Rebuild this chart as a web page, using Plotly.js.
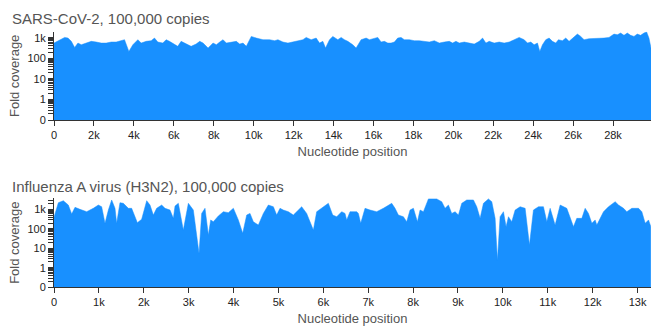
<!DOCTYPE html>
<html>
<head>
<meta charset="utf-8">
<script src="https://cdn.plot.ly/plotly-3.0.1.min.js"></script>
<style>html,body{margin:0;padding:0;background:#fff}#chart{width:653px;height:328px}</style>
</head>
<body>
<div id="chart"></div>
<script>
// SARS-CoV-2 coverage
const sarsPos = [0,283,533,700,867,1033,1200,1367,1617,1867,2117,2367,2617,2867,3117,3367,3533,3750,3950,4200,4367,4617,4867,5033,5200,5450,5617,5783,6033,6200,6367,6617,6867,7117,7300,7467,7717,7967,8133,8300,8467,8633,8883,9133,9300,9467,9633,9883,10133,10467,10800,11050,11217,11467,11717,11967,12217,12467,12633,12883,13133,13300,13467,13600,13800,13967,14217,14383,14550,14717,14967,15133,15383,15633,15800,16050,16217,16383,16550,16717,16883,17050,17217,17383,17550,17800,18050,18300,18550,18800,19050,19300,19550,19800,19967,20133,20300,20550,20800,21050,21300,21467,21633,21800,22050,22300,22550,22800,23050,23300,23550,23717,23883,24050,24217,24333,24467,24633,24800,24967,25133,25267,25467,25633,25800,26000,26217,26383,26550,26800,27050,27300,27550,27800,28050,28217,28383,28550,28717,28883,29050,29217,29383,29550,29683,29800,29903];
const sarsCov = [545,795,1030,955,660,337,545,452,545,660,612,545,545,612,612,710,795,215,452,795,545,660,710,955,612,545,795,660,452,378,660,487,378,487,660,545,313,545,452,612,795,545,612,660,487,545,378,1150,955,795,795,710,795,612,545,612,660,795,1030,795,955,545,660,313,795,1150,795,1030,795,660,452,313,795,955,795,890,1030,612,660,545,545,612,955,1030,795,795,710,710,660,612,710,545,612,660,545,660,545,612,545,487,660,955,545,660,545,612,545,612,795,1030,795,545,612,452,545,215,452,795,955,660,545,795,710,955,660,955,1490,1150,795,890,890,890,955,1030,1490,1380,1670,1290,1670,1290,1150,1490,1290,1670,1900,955,313];

// Influenza A (H3N2) coverage
const fluPos = [0,22,97,208,319,394,468,579,728,876,988,1062,1136,1211,1285,1359,1396,1470,1545,1656,1730,1857,1953,2065,2139,2213,2287,2399,2473,2584,2659,2696,2770,2881,2993,3104,3179,3231,3290,3364,3439,3491,3550,3661,3773,3884,3996,4107,4204,4293,4367,4441,4553,4664,4775,4887,4961,5035,5109,5221,5332,5444,5518,5629,5778,5852,5964,6112,6209,6298,6409,6483,6521,6595,6744,6781,6833,6929,7041,7189,7338,7524,7598,7672,7784,7858,7932,8007,8096,8155,8230,8341,8527,8638,8712,8787,8861,8935,9010,9084,9195,9344,9418,9493,9567,9678,9753,9827,9879,9938,10013,10072,10124,10198,10273,10384,10496,10592,10681,10793,10904,10979,11053,11127,11164,11276,11424,11573,11647,11759,11833,11907,11982,12056,12093,12242,12353,12502,12576,12688,12762,12873,13022,13096,13171,13245,13297];
const fluCov = [400,630,2240,2830,1700,590,1290,1020,770,1150,1700,1390,195,940,3090,1150,195,2240,2080,1150,1150,210,315,2830,1700,520,1150,1700,1150,940,350,1510,2080,88,2080,940,60,5.6,630,1150,49,290,235,465,770,690,1150,290,60,520,630,235,159,630,1700,1390,520,1150,940,770,520,940,1390,630,88,770,1150,2080,520,425,770,630,290,770,770,630,195,1150,940,770,1150,2080,1150,520,425,235,940,1150,235,940,770,3500,3500,2520,1150,1700,630,770,520,2080,3090,3090,1390,350,2080,3500,2520,350,2.5,425,770,131,425,235,940,1390,1150,15,940,1390,1390,235,1150,350,159,1700,1150,131,350,350,1150,630,195,290,159,770,1390,2520,1700,1150,770,1150,1150,770,195,290,131];

const yTickVals = [0.1, 1, 10, 100, 1000];
const yTickText = ['0', '1', '10', '100', '1k'];

const sarsTitle = 'SARS-CoV-2, 100,000 copies';
const fluTitle = 'Influenza A virus (H3N2), 100,000 copies';
const xTitle = 'Nucleotide position';
const yTitle = 'Fold coverage';

const FONT = 'Liberation Sans, Arial, Helvetica, sans-serif';
const BLUE = '#1890ff';

const minorVals = [];
[0.1, 1, 10, 100, 1000].forEach(d => { for (let k = 2; k <= 9; k++) minorVals.push(d * k); });

function yAxis(domain, top) {
  return {
    type: 'log', domain: domain, range: [-1, Math.log10(top)],
    tickmode: 'array', tickvals: yTickVals, ticktext: yTickText,
    ticks: 'outside', ticklen: 5, tickcolor: '#333', tickwidth: 1,
    minor: {tickvals: minorVals, ticks: 'outside', ticklen: 5, tickcolor: '#333', tickwidth: 1, showgrid: false},
    showline: true, linecolor: '#333', linewidth: 1,
    showgrid: false, zeroline: false,
    tickfont: {family: FONT, size: 11, color: '#222'},
    title: {text: yTitle, font: {family: FONT, size: 13, color: '#555'}, standoff: 4}
  };
}
function xAxis(anchor, range, dtick) {
  return {
    anchor: anchor, domain: [0, 1], range: range,
    tickmode: 'linear', tick0: 0, dtick: dtick, tickformat: '~s',
    ticks: 'outside', ticklen: 5, tickcolor: '#333', tickwidth: 1,
    showline: true, linecolor: '#333', linewidth: 1,
    showgrid: false, zeroline: false,
    tickfont: {family: FONT, size: 11, color: '#222'},
    title: {text: xTitle, font: {family: FONT, size: 13, color: '#555'}, standoff: 6}
  };
}

const traces = [
  {x: sarsPos, y: sarsCov, xaxis: 'x', yaxis: 'y', type: 'scatter', mode: 'lines',
   fill: 'tozeroy', fillcolor: BLUE, line: {color: BLUE, width: 0.5}, hoverinfo: 'skip'},
  {x: fluPos, y: fluCov, xaxis: 'x2', yaxis: 'y2', type: 'scatter', mode: 'lines',
   fill: 'tozeroy', fillcolor: BLUE, line: {color: BLUE, width: 0.5}, hoverinfo: 'skip'}
];

const layout = {
  width: 653, height: 328,
  margin: {l: 54, r: 2, t: 0, b: 0},
  paper_bgcolor: '#fff', plot_bgcolor: '#fff',
  showlegend: false,
  font: {family: FONT},
  xaxis: xAxis('y', [0, 29903], 2000),
  yaxis: yAxis([0.6341, 0.9034], 1950),
  xaxis2: xAxis('y2', [0, 13300], 1000),
  yaxis2: yAxis([0.1241, 0.3963], 3900),
  annotations: [
    {text: sarsTitle, xref: 'paper', yref: 'paper', x: -0.0737, y: 1 - 18/328,
     xanchor: 'left', yanchor: 'middle', showarrow: false,
     font: {family: FONT, size: 15, color: '#555'}},
    {text: fluTitle, xref: 'paper', yref: 'paper', x: -0.0737, y: 1 - 187/328,
     xanchor: 'left', yanchor: 'middle', showarrow: false,
     font: {family: FONT, size: 15, color: '#555'}}
  ]
};

Plotly.newPlot('chart', traces, layout, {displayModeBar: false, staticPlot: true});
</script>
</body>
</html>
